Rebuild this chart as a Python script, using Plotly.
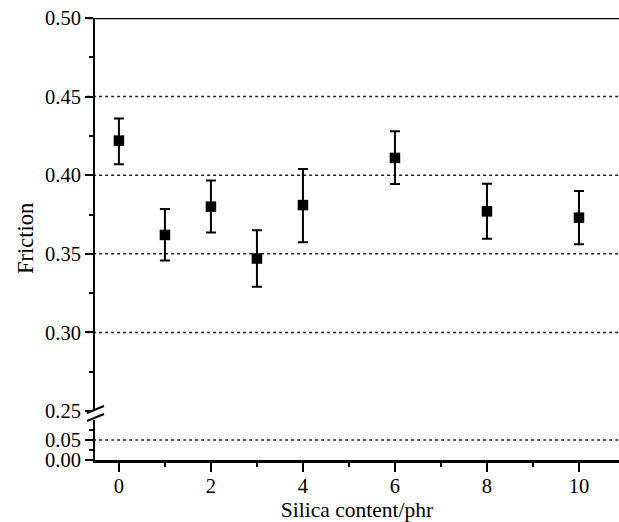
import plotly.graph_objects as go

# Data
silica = [0, 1, 2, 3, 4, 6, 8, 10]
friction = [0.422, 0.362, 0.380, 0.347, 0.381, 0.411, 0.377, 0.373]
err_plus = [0.014, 0.0165, 0.0167, 0.018, 0.023, 0.017, 0.0175, 0.017]
err_minus = [0.015, 0.0163, 0.0164, 0.018, 0.0236, 0.0166, 0.0174, 0.017]

upper_ticks = [0.25, 0.30, 0.35, 0.40, 0.45, 0.50]
lower_ticks = [0.00, 0.05]
x_ticks = [0, 2, 4, 6, 8, 10]
upper_grid = [0.30, 0.35, 0.40, 0.45]
lower_grid = [0.05]

FONT = "Liberation Serif"

fig = go.Figure()
fig.add_trace(go.Scatter(
    x=silica, y=friction, mode="markers", yaxis="y", xaxis="x",
    marker=dict(symbol="square", size=10.5, color="black"),
    error_y=dict(type="data", symmetric=False, array=err_plus, arrayminus=err_minus,
                 color="black", thickness=2, width=5),
    showlegend=False,
))
# invisible trace to display lower axis segment
fig.add_trace(go.Scatter(x=[None], y=[None], yaxis="y2", xaxis="x",
                         mode="markers", showlegend=False, hoverinfo="skip"))

L, R, T, B = 95, 0, 18, 62
W, H = 619, 522
pw, ph = W - L - R, H - T - B

def px_x(p):
    return (p - L) / pw

def px_y(p):
    return (H - B - p) / ph

up_bottom = px_y(411)
low_top = px_y(420)

tickfont = dict(family=FONT, size=20.5, color="black")

fig.update_layout(
    width=W, height=H,
    margin=dict(l=L, r=R, t=T, b=B),
    paper_bgcolor="white", plot_bgcolor="white",
    font=dict(family=FONT, color="black"),
    xaxis=dict(
        range=[-0.52, 10.87], anchor="y2",
        tickvals=x_ticks, ticks="outside", ticklen=9, tickwidth=2, tickcolor="black",
        minor=dict(dtick=1, tick0=1, ticks="outside", ticklen=4, tickwidth=2, tickcolor="black", showgrid=False),
        showline=True, linewidth=2.5, linecolor="black", showgrid=False, zeroline=False,
        tickfont=tickfont, ticklabelstandoff=-3,
        title=dict(text="Silica content/phr", font=dict(family=FONT, size=21.5, color="black"), standoff=9),
    ),
    yaxis=dict(
        domain=[up_bottom, 1], range=[0.25, 0.50], anchor="x",
        tickvals=upper_ticks, tickformat=".2f", ticks="outside", ticklen=8, tickwidth=2, tickcolor="black",
        minor=dict(tickvals=[0.275, 0.325, 0.375, 0.425, 0.475], ticks="outside", ticklen=4, tickwidth=2,
                   tickcolor="black", showgrid=False),
        showline=True, linewidth=2, linecolor="black", showgrid=False, zeroline=False,
        tickfont=tickfont,
    ),
    yaxis2=dict(
        domain=[0, low_top], range=[0, 0.1], anchor="x",
        tickvals=lower_ticks, tickformat=".2f", ticks="outside", ticklen=8, tickwidth=2, tickcolor="black",
        minor=dict(tickvals=[0.025, 0.075], ticks="outside", ticklen=4, tickwidth=2,
                   tickcolor="black", showgrid=False),
        showline=True, linewidth=2, linecolor="black", showgrid=False, zeroline=False,
        tickfont=tickfont,
    ),
)

shapes = []
for v in upper_grid:
    shapes.append(dict(type="line", xref="paper", yref="y", x0=-0.015, x1=1, y0=v, y1=v,
                       line=dict(color="#222", width=1.5, dash="dot"), layer="below"))
for v in lower_grid:
    shapes.append(dict(type="line", xref="paper", yref="y2", x0=-0.015, x1=1, y0=v, y1=v,
                       line=dict(color="#222", width=1.5, dash="dot"), layer="below"))
# solid top line at 0.50
shapes.append(dict(type="line", xref="paper", yref="y", x0=-0.015, x1=1, y0=0.50, y1=0.50,
                   line=dict(color="black", width=2.5)))
# axis break marks
shapes.append(dict(type="line", xref="paper", yref="paper",
                   x0=px_x(87), x1=px_x(104), y0=px_y(413), y1=px_y(406),
                   line=dict(color="black", width=2)))
shapes.append(dict(type="line", xref="paper", yref="paper",
                   x0=px_x(87), x1=px_x(104), y0=px_y(421), y1=px_y(414),
                   line=dict(color="black", width=2)))
fig.update_layout(shapes=shapes)

fig.add_annotation(text="Friction", xref="paper", yref="paper", x=px_x(25), y=0.5,
                   textangle=-90, showarrow=False, xanchor="center", yanchor="middle",
                   font=dict(family=FONT, size=22.5, color="black"))

fig.write_html("out.html")
